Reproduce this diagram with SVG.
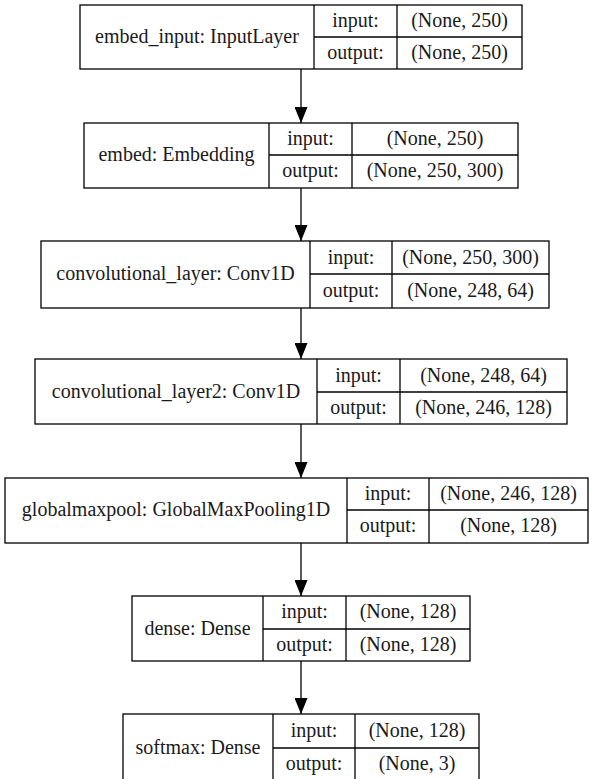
<svg xmlns="http://www.w3.org/2000/svg" width="593" height="779" viewBox="0 0 593 779">
<style>
  .box { fill: #ffffff; stroke: #000000; stroke-width: 1.3; }
  .ln { stroke: #000000; stroke-width: 1.3; fill: none; }
  text { font-family: "Liberation Serif", "Times New Roman", serif; font-size: 20px; fill: #1a1a1a; text-anchor: middle; }
  .edge { stroke: #000000; stroke-width: 1.3; fill: none; marker-end: url(#arr); }
</style>
<defs>
  <marker id="arr" viewBox="0 0 16 13" markerWidth="16" markerHeight="13" refX="16" refY="6.5" orient="auto" markerUnits="userSpaceOnUse">
    <path d="M0,0 L16,6.5 L0,13 z" fill="#000000"/>
  </marker>
</defs>
<rect width="593" height="779" fill="#ffffff"/>

<g id="connectors">
  <line class="edge" x1="301" y1="69" x2="301" y2="123"/>
  <line class="edge" x1="301" y1="188" x2="301" y2="241"/>
  <line class="edge" x1="301" y1="308" x2="301" y2="359"/>
  <line class="edge" x1="301" y1="424" x2="301" y2="478"/>
  <line class="edge" x1="301" y1="543" x2="301" y2="596"/>
  <line class="edge" x1="301" y1="661" x2="301" y2="714"/>
</g>

<g id="embed_input">
  <rect class="box" x="80" y="5" width="442" height="64"/>
  <line class="ln" x1="314" y1="5" x2="314" y2="69"/>
  <line class="ln" x1="397" y1="5" x2="397" y2="69"/>
  <line class="ln" x1="314" y1="37" x2="522" y2="37"/>
  <text x="197" y="43">embed_input: InputLayer</text>
  <text x="355.5" y="27">input:</text>
  <text x="355.5" y="59">output:</text>
  <text x="459.5" y="27">(None, 250)</text>
  <text x="459.5" y="59">(None, 250)</text>
</g>

<g id="embed">
  <rect class="box" x="84" y="123" width="434" height="65"/>
  <line class="ln" x1="269" y1="123" x2="269" y2="188"/>
  <line class="ln" x1="352" y1="123" x2="352" y2="188"/>
  <line class="ln" x1="269" y1="155" x2="518" y2="155"/>
  <text x="176.5" y="161">embed: Embedding</text>
  <text x="310.5" y="145">input:</text>
  <text x="310.5" y="177">output:</text>
  <text x="435" y="145">(None, 250)</text>
  <text x="435" y="177">(None, 250, 300)</text>
</g>

<g id="convolutional_layer">
  <rect class="box" x="41" y="241" width="508" height="67"/>
  <line class="ln" x1="310" y1="241" x2="310" y2="308"/>
  <line class="ln" x1="392" y1="241" x2="392" y2="308"/>
  <line class="ln" x1="310" y1="274" x2="549" y2="274"/>
  <text x="175.5" y="280">convolutional_layer: Conv1D</text>
  <text x="351" y="264">input:</text>
  <text x="351" y="297">output:</text>
  <text x="470.5" y="264">(None, 250, 300)</text>
  <text x="470.5" y="297">(None, 248, 64)</text>
</g>

<g id="convolutional_layer2">
  <rect class="box" x="35" y="359" width="532" height="65"/>
  <line class="ln" x1="317" y1="359" x2="317" y2="424"/>
  <line class="ln" x1="400" y1="359" x2="400" y2="424"/>
  <line class="ln" x1="317" y1="392" x2="567" y2="392"/>
  <text x="176" y="398">convolutional_layer2: Conv1D</text>
  <text x="358.5" y="382">input:</text>
  <text x="358.5" y="414">output:</text>
  <text x="483.5" y="382">(None, 248, 64)</text>
  <text x="483.5" y="414">(None, 246, 128)</text>
</g>

<g id="globalmaxpool">
  <rect class="box" x="5" y="478" width="583" height="65"/>
  <line class="ln" x1="347" y1="478" x2="347" y2="543"/>
  <line class="ln" x1="429" y1="478" x2="429" y2="543"/>
  <line class="ln" x1="347" y1="510" x2="588" y2="510"/>
  <text x="176" y="516">globalmaxpool: GlobalMaxPooling1D</text>
  <text x="388" y="500">input:</text>
  <text x="388" y="532">output:</text>
  <text x="508.5" y="500">(None, 246, 128)</text>
  <text x="508.5" y="532">(None, 128)</text>
</g>

<g id="dense">
  <rect class="box" x="132" y="596" width="338" height="65"/>
  <line class="ln" x1="263" y1="596" x2="263" y2="661"/>
  <line class="ln" x1="346" y1="596" x2="346" y2="661"/>
  <line class="ln" x1="263" y1="629" x2="470" y2="629"/>
  <text x="197.5" y="635">dense: Dense</text>
  <text x="304.5" y="618">input:</text>
  <text x="304.5" y="651">output:</text>
  <text x="408" y="618">(None, 128)</text>
  <text x="408" y="651">(None, 128)</text>
</g>

<g id="softmax">
  <rect class="box" x="123" y="714" width="356" height="67"/>
  <line class="ln" x1="273" y1="714" x2="273" y2="781"/>
  <line class="ln" x1="355" y1="714" x2="355" y2="781"/>
  <line class="ln" x1="273" y1="748" x2="479" y2="748"/>
  <text x="198" y="754">softmax: Dense</text>
  <text x="314" y="737">input:</text>
  <text x="314" y="770">output:</text>
  <text x="417" y="737">(None, 128)</text>
  <text x="417" y="770">(None, 3)</text>
</g>
</svg>
